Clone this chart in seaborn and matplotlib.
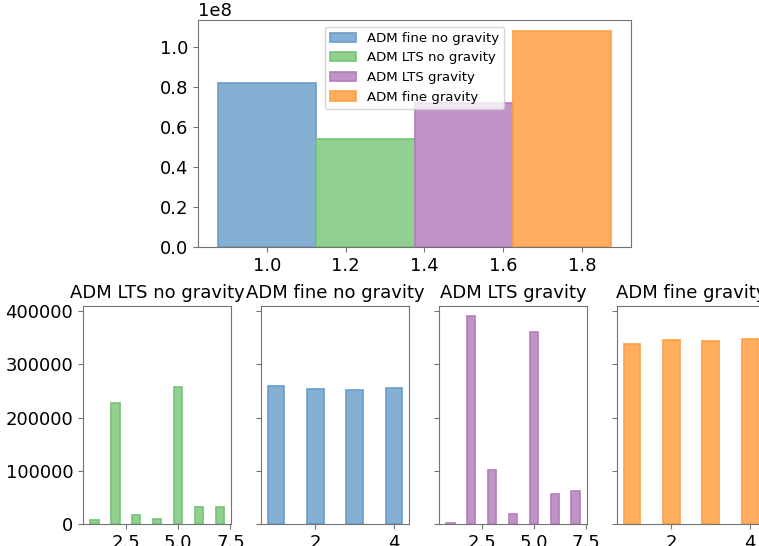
import matplotlib
matplotlib.use("Agg")
import matplotlib.pyplot as plt
import seaborn as sns

# Totales por simulacion (grafico de arriba)
labels = ["ADM fine no gravity", "ADM LTS no gravity", "ADM LTS gravity", "ADM fine gravity"]
positions = [1.0, 1.25, 1.5, 1.75]
totals = [0.82e8, 0.54e8, 0.72e8, 1.08e8]
# relleno y borde de cada simulacion
fills = ["#86afd4", "#92d092", "#c194c8", "#ffae60"]
edges = ["#6a9ccb", "#74c474", "#b47dbd", "#ff9f45"]

# Valores por nivel (graficos de abajo)
lts_x = [1, 2, 3, 4, 5, 6, 7]
fine_x = [1, 2, 3, 4]
lts_nograv = [7500, 228000, 17000, 9000, 257000, 31000, 31000]
fine_nograv = [259000, 253000, 251000, 255500]
lts_grav = [2500, 390000, 102000, 19000, 360000, 56000, 62000]
fine_grav = [339000, 345000, 343000, 347000]

FS = 13


def outline(patches, edge_list):
    for p, e in zip(patches, edge_list):
        p.set_edgecolor(e)
        p.set_linewidth(1.2)


def style_axes(ax):
    for s in ax.spines.values():
        s.set_color("0.45")
    ax.tick_params(labelsize=FS, color="0.45")
    ax.set_xlabel("")
    ax.set_ylabel("")


fig = plt.figure(figsize=(7.59, 5.46), dpi=100)

# ---- arriba
ax = fig.add_axes([0.2609, 0.5476, 0.5705, 0.4158])
sns.barplot(x=positions, y=totals, hue=labels, hue_order=labels,
            palette=fills, saturation=1, native_scale=True, width=1.0,
            dodge=False, ax=ax)
outline(ax.patches, edges)
sns.move_legend(ax, "upper center", fontsize=9.5, title=None)
outline(ax.get_legend().legend_handles, edges)
style_axes(ax)
ax.yaxis.get_offset_text().set_fontsize(FS)

# ---- abajo
lefts = [0.1094, 0.3439, 0.5784, 0.8129]
panels = [
    ("ADM LTS no gravity", lts_x, lts_nograv, 1),
    ("ADM fine no gravity", fine_x, fine_nograv, 0),
    ("ADM LTS gravity", lts_x, lts_grav, 2),
    ("ADM fine gravity", fine_x, fine_grav, 3),
]
first = None
for left, (title, xs, ys, k) in zip(lefts, panels):
    a = fig.add_axes([left, 0.0403, 0.195, 0.3993], sharey=first)
    sns.barplot(x=xs, y=ys, color=fills[k], saturation=1, native_scale=True,
                width=0.42, ax=a)
    outline(a.patches, [edges[k]] * len(a.patches))
    style_axes(a)
    a.set_title(title, fontsize=FS)
    if first is None:
        first = a
    else:
        a.tick_params(labelleft=False)

fig.savefig("out.png", dpi=100)
